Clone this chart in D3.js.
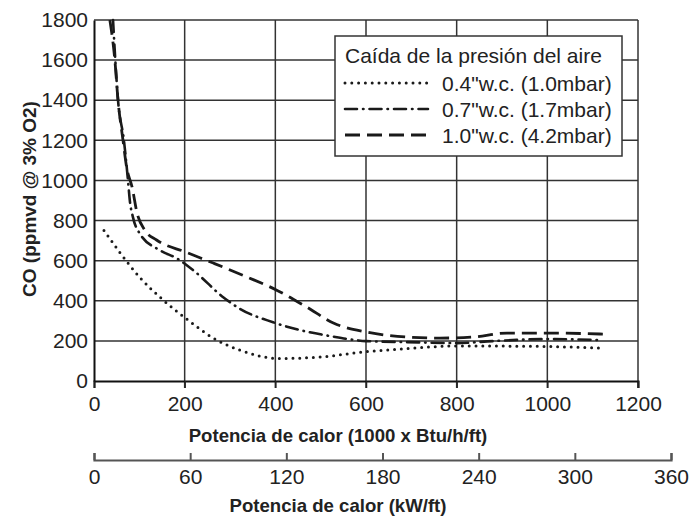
<!DOCTYPE html>
<html>
<head>
<meta charset="utf-8">
<script src="https://cdn.jsdelivr.net/npm/d3@7"></script>
<style>
  body { margin: 0; background: #fff; }
  svg text { font-family: "Liberation Sans", Arial, Helvetica, sans-serif; fill: #222; }
</style>
</head>
<body>
<section></section>
<script>
// values
let xTicks = [0, 200, 400, 600, 800, 1000, 1200];
let yTicks = [0, 200, 400, 600, 800, 1000, 1200, 1400, 1600, 1800];
let kwTicks = [0, 60, 120, 180, 240, 300, 360];

let legendTitle = 'Caída de la presión del aire';
let seriesNames = ['0.4"w.c. (1.0mbar)', '0.7"w.c. (1.7mbar)', '1.0"w.c. (4.2mbar)'];

let drop04 = [[22,751],[57,641],[101,517],[153,403],[202,313],[271,204],[322,154],[410,112],
              [500,120],[600,146],[700,163],[800,175],[900,174],[1000,172],[1116,164]];
let drop07 = [[42,1800],[47,1600],[53,1400],[66,1200],[75,1000],[79,900],[86,816],[101,735],
              [146,651],[183,611],[219,552],[285,418],[322,360],[395,293],[454,254],[521,224],
              [601,199],[690,194],[800,189],[880,199],[1000,209],[1120,204]];
let drop10 = [[35,1800],[46,1600],[53,1400],[64,1200],[72,1065],[84,967],[95,837],[112,752],
              [138,703],[202,643],[263,588],[337,519],[403,453],[469,369],[528,289],[601,244],
              [690,219],[763,214],[836,219],[911,239],[1000,239],[1123,234]];

let width = 696, height = 521;
let padLeft = 94, padRight = 638, padTop = 20, padBottom = 381;
let titleX = 338;

let xScale = d3.scaleLinear().domain([0, 1200]).range([padLeft, padRight]);
let yScale = d3.scaleLinear().domain([0, 1800]).range([padBottom, padTop]);
let kwScale = d3.scaleLinear().domain([0, 360]).range([padLeft, 671]);

let styles = [
  {dash: '0,6.8', w: 3, cap: 'round'},
  {dash: '12,6,0.5,6', w: 2.6, cap: 'round'},
  {dash: '15,7', w: 2.8, cap: 'butt'}
];

var svg = d3.select('section').append('svg')
    .attr('width', width).attr('height', height);

// grid
svg.append('g').selectAll('line').data(yTicks.slice(1)).enter().append('line')
    .attr('x1', padLeft).attr('x2', padRight)
    .attr('y1', d => yScale(d)).attr('y2', d => yScale(d))
    .attr('stroke', '#333').attr('stroke-width', 1.5);
svg.append('g').selectAll('line').data(xTicks.slice(1)).enter().append('line')
    .attr('x1', d => xScale(d)).attr('x2', d => xScale(d))
    .attr('y1', padTop).attr('y2', padBottom + 7)
    .attr('stroke', '#333').attr('stroke-width', 1.5);

// main axes
let xAxis = d3.axisBottom(xScale).tickValues(xTicks).tickFormat(d3.format('d'))
    .tickSize(7).tickPadding(8);
let gx = svg.append('g').attr('transform', 'translate(0,' + padBottom + ')').call(xAxis);
gx.select('.domain').attr('stroke', '#111').attr('stroke-width', 2);
gx.selectAll('.tick line').attr('stroke', '#222').attr('stroke-width', 1.5);
gx.selectAll('.tick text').attr('font-size', 21).attr('font-family', null).attr('dy', '0.71em');

let yAxis = d3.axisLeft(yScale).tickValues(yTicks).tickFormat(d3.format('d'))
    .tickSize(0).tickPadding(6);
let gy = svg.append('g').attr('transform', 'translate(' + padLeft + ',0)').call(yAxis);
gy.select('.domain').attr('stroke', '#111').attr('stroke-width', 2);
gy.selectAll('.tick text').attr('font-size', 21).attr('font-family', null);

svg.append('text').attr('x', titleX).attr('y', 442)
    .attr('text-anchor', 'middle').attr('font-size', 18.6).attr('font-weight', 'bold')
    .text('Potencia de calor (1000 x Btu/h/ft)');

svg.append('text').attr('transform', 'translate(36,199) rotate(-90)')
    .attr('text-anchor', 'middle').attr('font-size', 19).attr('font-weight', 'bold')
    .text('CO (ppmvd @ 3% O2)');

// second x axis (kW/ft)
let kwAxis = d3.axisTop(kwScale).tickValues(kwTicks).tickSize(7);
let gk = svg.append('g').attr('transform', 'translate(0,460)').call(kwAxis);
gk.select('.domain').attr('stroke', '#555').attr('stroke-width', 2.2);
gk.selectAll('.tick line').attr('stroke', '#555').attr('stroke-width', 2);
gk.selectAll('.tick text').remove();
gk.selectAll('.tick').append('text')
    .attr('y', 24).attr('text-anchor', 'middle').attr('font-size', 21)
    .text(d => d);

svg.append('text').attr('x', titleX).attr('y', 512)
    .attr('text-anchor', 'middle').attr('font-size', 18.6).attr('font-weight', 'bold')
    .text('Potencia de calor (kW/ft)');

// curves
let line = d3.line().x(d => xScale(d[0])).y(d => yScale(d[1])).curve(d3.curveMonotoneX);
[drop04, drop07, drop10].forEach((s, i) => {
  svg.append('path').datum(s)
      .attr('d', line)
      .attr('fill', 'none')
      .attr('stroke', '#1a1a1a')
      .attr('stroke-width', styles[i].w)
      .attr('stroke-linecap', styles[i].cap)
      .attr('stroke-dasharray', styles[i].dash);
});

// legend
let lg = svg.append('g');
lg.append('rect').attr('x', 335).attr('y', 36).attr('width', 287).attr('height', 120)
    .attr('fill', '#fff').attr('stroke', '#333').attr('stroke-width', 1.5);
lg.append('text').attr('x', 345).attr('y', 62.5).attr('font-size', 21).text(legendTitle);
seriesNames.forEach((name, i) => {
  let cy = 83 + i * 26;
  lg.append('line').attr('x1', 345).attr('x2', 428).attr('y1', cy).attr('y2', cy)
      .attr('stroke', '#1a1a1a')
      .attr('stroke-width', styles[i].w)
      .attr('stroke-linecap', styles[i].cap)
      .attr('stroke-dasharray', styles[i].dash);
  lg.append('text').attr('x', 442).attr('y', cy + 7.5).attr('font-size', 21).text(name);
});
</script>
</body>
</html>
